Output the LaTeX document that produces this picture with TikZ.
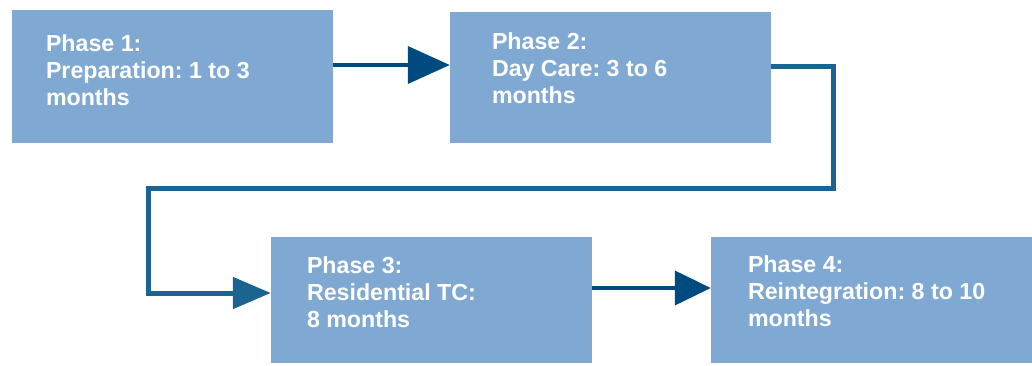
\documentclass[tikz,border=0pt]{standalone}
\usepackage{fontspec}
\setmainfont{Liberation Sans}
\usetikzlibrary{arrows.meta}
\definecolor{boxblue}{RGB}{127,169,211}
\definecolor{arrowblue}{RGB}{0,74,128}
\definecolor{loopblue}{RGB}{27,100,145}
\frenchspacing

\begin{document}
\begin{tikzpicture}[x=1pt,y=-1pt,
    phase/.style={fill=boxblue, draw=none, inner sep=0pt, minimum width=321pt},
    phasetext/.style={anchor=north west, inner sep=0pt, align=left, text=white,
      font=\bfseries\fontsize{23.2}{27}\selectfont},
    flow/.style={draw=arrowblue, line width=4pt, -{Triangle[length=42pt,width=37pt]}}]
    \useasboundingbox (0,0) rectangle (1032,365);

    % Boxes
    \node[phase, minimum height=133pt] (p1) at (172.5,76.5) {};
    \node[phase, minimum height=131pt] (p2) at (610.5,77.5) {};
    \node[phase, minimum height=126pt] (p3) at (431.5,300) {};
    \node[phase, minimum height=126pt] (p4) at (871.5,300) {};

    % Texts
    \node[phasetext] (t1) at ([xshift=34pt,yshift=-25pt]p1.north west) {Phase 1:\\Preparation: 1 to 3\\months};
    \node[phasetext] (t2) at ([xshift=42pt,yshift=-21pt]p2.north west) {Phase 2:\\Day Care: 3 to 6\\months};
    \node[phasetext] (t3) at ([xshift=36pt,yshift=-20pt]p3.north west) {Phase 3:\\Residential TC:\\8 months};
    \node[phasetext] (t4) at ([xshift=37pt,yshift=-19pt]p4.north west) {Phase 4:\\Reintegration: 8 to 10\\months};

    % Arrows
    \draw[flow] ([yshift=11.5pt]p1.east) -- ([yshift=11.5pt]p1.east -| p2.west);
    \draw[draw=loopblue, line width=5pt, -{Triangle[length=38pt,width=31pt]}]
        ([yshift=11.5pt]p2.east) -- ++(62,0) -- ++(0,122) -- (148,188) |- ([yshift=7pt]p3.west);
    \draw[flow, -{Triangle[length=36pt,width=34pt]}] ([yshift=12pt]p3.east) -- ([yshift=12pt]p3.east -| p4.west);
\end{tikzpicture}
\end{document}
